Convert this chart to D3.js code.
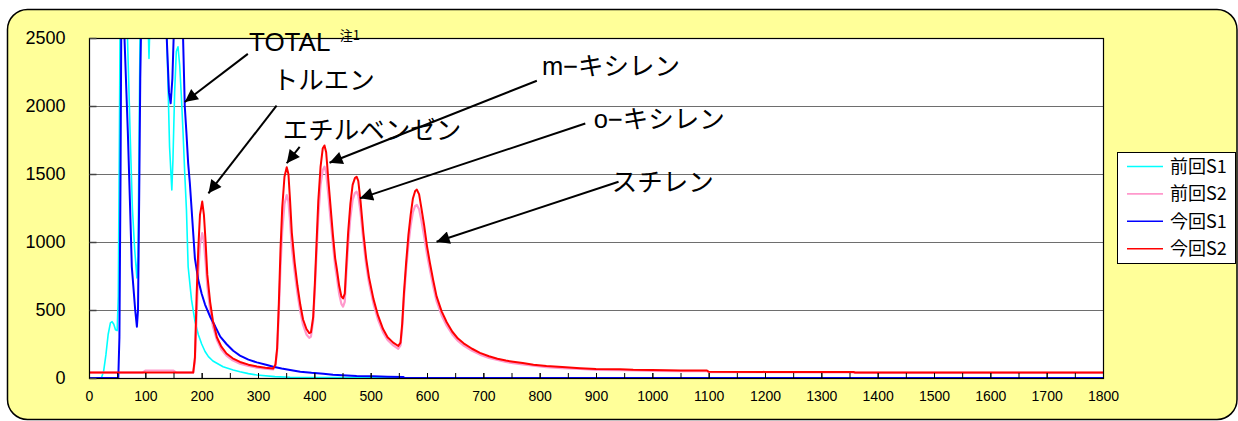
<!DOCTYPE html>
<html>
<head>
<meta charset="utf-8">
<script src="https://cdn.jsdelivr.net/npm/d3@7"></script>
<style>
  body { margin: 0; background: #fff; }
  svg { display: block; }
</style>
</head>
<body>
<div id="chart"></div>
<script>
const width = 1238;
const height = 421;
const marginTop = 38;
const marginLeft = 89;
const plotRight = 1103;
const plotBottom = 378;

// [time, value] per series (values above 2500 are clipped)
const prevS1 = [[0,0],[22,0],[26,50],[30,170],[34,320],[38,405],[41,414],[44,395],[47,355],[50,348],[52,600],[54,1800],[56,3200],[64,3200],[68,2550],[73,1800],[77,1250],[81,950],[85,735],[87,900],[89,1800],[91,2700],[93,3200],[103,3200],[105,2600],[106.5,2350],[108,2600],[110,3200],[134,3200],[137,2700],[140,2200],[143,1700],[147,1382],[149,1600],[152,2100],[155,2400],[158,2436],[161,2300],[164,2068],[167,1800],[170,1500],[173,1235],[176,818],[182,574],[188,420],[194,320],[200,250],[206,195],[212,157],[220,125],[238,83],[256,59],[268,46],[283,32],[298,22],[330,10],[357,5],[400,4],[500,3],[558,3],[560,0],[1800,0]];
const prevS2 = [[0,40],[95,40],[100,55],[150,55],[155,40],[185,40],[188,120],[191,450],[194,780],[197,980],[201,1065],[204,1000],[207,850],[210,680],[215,500],[220,380],[227,280],[235,210],[244,165],[255,130],[268,105],[283,88],[298,76],[313,68],[327,63],[331,90],[334,200],[337,480],[340,820],[343,1080],[347,1280],[351,1345],[354,1300],[357,1150],[360,960],[365,780],[370,620],[375,490],[380,390],[386,320],[391,295],[394,305],[398,420],[401,650],[404,920],[407,1180],[411,1420],[415,1530],[418,1554],[421,1510],[425,1340],[428,1200],[433,980],[437,820],[440,740],[444,620],[448,545],[451,525],[454,560],[457,780],[460,980],[464,1180],[468,1310],[472,1360],[475,1370],[478,1340],[482,1220],[487,1010],[492,830],[497,700],[505,545],[513,430],[522,335],[530,280],[540,240],[549,215],[553,240],[556,370],[559,580],[563,800],[567,980],[571,1120],[575,1220],[579,1265],[582,1272],[586,1240],[590,1160],[595,1040],[600,910],[605,800],[611,675],[617,565],[626,460],[635,385],[645,320],[655,272],[665,238],[680,200],[694,172],[710,148],[725,132],[740,118],[753,110],[770,100],[789,90],[812,80],[840,73],[872,66],[900,60],[943,58],[966,55],[1000,53],[1050,51],[1097,50],[1100,43],[1300,42],[1357,42],[1360,38],[1800,38]];
const currS1 = [[0,0],[52,0],[54,300],[56,1500],[58,3200],[61,3200],[63,2500],[66,2150],[69,1800],[73,1250],[76,818],[82,500],[85,377],[87,500],[89,1300],[91,2200],[93,2700],[95,3200],[135,3200],[138,2500],[142,2100],[145,2020],[148,2200],[151,2600],[154,3200],[164,3200],[167,2500],[170,2000],[173,1800],[176,1580],[179,1434],[182,1250],[188,880],[194,720],[200,620],[206,540],[215,451],[224,380],[233,304],[244,250],[256,200],[268,165],[283,135],[298,115],[316,96],[327,83],[342,70],[357,59],[375,46],[395,38],[416,32],[433,24],[475,15],[505,12],[530,10],[558,8],[560,0],[1800,0]];
const currS2 = [[0,40],[100,40],[185,40],[188,150],[191,600],[194,950],[197,1200],[201,1297],[204,1200],[207,1000],[210,760],[215,560],[220,420],[227,300],[235,230],[244,180],[255,145],[268,118],[283,98],[298,85],[313,76],[327,70],[331,100],[334,220],[337,550],[340,950],[343,1250],[347,1480],[351,1550],[354,1500],[357,1300],[360,1070],[365,850],[370,680],[375,540],[380,430],[386,360],[391,330],[394,335],[398,450],[401,700],[404,1000],[407,1300],[411,1550],[415,1690],[418,1710],[421,1660],[425,1450],[428,1300],[433,1050],[437,880],[440,800],[444,680],[448,600],[451,585],[454,620],[457,850],[460,1070],[464,1280],[468,1420],[472,1470],[475,1480],[478,1450],[482,1300],[487,1070],[492,880],[497,740],[505,580],[513,460],[522,360],[530,300],[540,260],[549,235],[553,260],[556,400],[559,620],[563,850],[567,1050],[571,1200],[575,1320],[579,1375],[582,1385],[586,1350],[590,1250],[595,1120],[600,970],[605,850],[611,720],[617,600],[626,490],[635,410],[645,340],[655,290],[665,255],[680,215],[694,185],[710,160],[725,142],[740,128],[753,120],[770,110],[789,98],[812,88],[840,80],[872,72],[900,66],[943,64],[966,60],[1000,58],[1050,56],[1097,55],[1100,46],[1200,45],[1300,44],[1357,44],[1360,40],[1500,40],[1800,40]];

const seriesNames = ["前回S1", "前回S2", "今回S1", "今回S2"];
const seriesData = [prevS1, prevS2, currS1, currS2];
const seriesColors = ["#00FFFF", "#FF99CC", "#0000FF", "#FF0000"];

const yTicks = [0, 500, 1000, 1500, 2000, 2500];
const xLabelTicks = d3.range(0, 1801, 100);
const xMinorTicks = d3.range(50, 1800, 50);

// annotations: label, text anchor [t, v], arrow start [t, v], arrow tip [t, v]
const noteLabels = ["TOTAL", "トルエン", "エチルベンゼン", "m−キシレン", "o−キシレン", "スチレン"];
const noteText = [[284, 2404], [326, 2125], [344, 1757], [804, 2228], [896, 1838], [928, 1375]];
const noteFrom = [[282, 2383], [333, 2002], [374, 1700], [795, 2186], [881, 1871], [940, 1443]];
const noteTip = [[170, 2029], [212, 1358], [351, 1579], [427, 1583], [481, 1321], [617, 1002]];
const totalNote = "注1";

const svg = d3.select("#chart")
    .append("svg")
    .attr("width", width)
    .attr("height", height);

svg.append("rect")
    .attr("x", 7.5).attr("y", 9.5)
    .attr("width", 1229.5).attr("height", 410)
    .attr("rx", 20).attr("ry", 20)
    .attr("fill", "#FFFF99")
    .attr("stroke", "#000")
    .attr("stroke-width", 1.5);

const xScale = d3.scaleLinear().domain([0, 1800]).range([marginLeft, plotRight]);
const yScale = d3.scaleLinear().domain([0, 2500]).range([plotBottom, marginTop]);

svg.append("rect")
    .attr("x", marginLeft).attr("y", marginTop)
    .attr("width", plotRight - marginLeft).attr("height", plotBottom - marginTop)
    .attr("fill", "#fff");

// gridlines
svg.append("g")
    .selectAll("line")
    .data(yTicks.slice(1, -1))
    .join("line")
    .attr("x1", marginLeft).attr("x2", plotRight)
    .attr("y1", d => yScale(d) + 0.5).attr("y2", d => yScale(d) + 0.5)
    .attr("stroke", "#6e6e6e").attr("stroke-width", 1);

svg.append("defs").append("clipPath").attr("id", "plotClip")
    .append("rect")
    .attr("x", marginLeft).attr("y", marginTop)
    .attr("width", plotRight - marginLeft).attr("height", plotBottom - marginTop + 2);

const line = d3.line()
    .x(d => xScale(d[0]))
    .y(d => yScale(d[1]));

const widths = [1.6, 2.2, 2, 2];
svg.append("g")
    .attr("clip-path", "url(#plotClip)")
    .selectAll("path")
    .data(seriesData)
    .join("path")
    .attr("fill", "none")
    .attr("stroke", (d, i) => seriesColors[i])
    .attr("stroke-width", (d, i) => widths[i])
    .attr("stroke-linejoin", "round")
    .attr("d", line);

// plot border
svg.append("rect")
    .attr("x", marginLeft + 0.5).attr("y", marginTop + 0.5)
    .attr("width", plotRight - marginLeft).attr("height", plotBottom - marginTop)
    .attr("fill", "none")
    .attr("stroke", "#000").attr("stroke-width", 1.2);

// y axis
const yAxis = svg.append("g")
    .attr("transform", `translate(${marginLeft + 0.5},0)`)
    .call(d3.axisLeft(yScale).tickValues(yTicks).tickFormat(d3.format("d"))
        .tickSizeInner(-7).tickSizeOuter(0).tickPadding(24));
yAxis.select(".domain").remove();
yAxis.selectAll("line").attr("stroke", "#444").attr("stroke-width", 1.5);
yAxis.selectAll("text")
    .attr("font-family", "Liberation Sans, Arial, sans-serif")
    .attr("font-size", 18)
    .attr("fill", "#000");

// x axis
const xAxis = svg.append("g")
    .attr("transform", `translate(0,${plotBottom + 0.5})`)
    .call(d3.axisBottom(xScale).tickValues(xLabelTicks).tickFormat(d3.format("d"))
        .tickSize(0).tickPadding(13));
xAxis.select(".domain").remove();
xAxis.selectAll("text")
    .attr("font-family", "Liberation Sans, Arial, sans-serif")
    .attr("font-size", 14)
    .attr("fill", "#000");

svg.append("g")
    .selectAll("line")
    .data(xLabelTicks.concat(xMinorTicks))
    .join("line")
    .attr("x1", d => xScale(d) + 0.5).attr("x2", d => xScale(d) + 0.5)
    .attr("y1", plotBottom - 5).attr("y2", plotBottom)
    .attr("stroke", "#000").attr("stroke-width", 1);

// annotations
svg.append("defs").append("marker")
    .attr("id", "arrowHead")
    .attr("viewBox", "0 0 10 10")
    .attr("refX", 10).attr("refY", 5)
    .attr("markerUnits", "userSpaceOnUse")
    .attr("markerWidth", 17).attr("markerHeight", 13)
    .attr("orient", "auto")
    .append("path")
    .attr("d", "M0,0 L10,5 L0,10 Z")
    .attr("fill", "#000");

svg.append("g")
    .selectAll("line")
    .data(noteLabels)
    .join("line")
    .attr("x1", (d, i) => xScale(noteFrom[i][0]))
    .attr("y1", (d, i) => yScale(noteFrom[i][1]))
    .attr("x2", (d, i) => xScale(noteTip[i][0]))
    .attr("y2", (d, i) => yScale(noteTip[i][1]))
    .attr("stroke", "#000")
    .attr("stroke-width", 2)
    .attr("marker-end", "url(#arrowHead)");

svg.append("g")
    .selectAll("text")
    .data(noteLabels)
    .join("text")
    .attr("x", (d, i) => xScale(noteText[i][0]))
    .attr("y", (d, i) => yScale(noteText[i][1]))
    .attr("font-family", "Liberation Sans, 'Noto Sans CJK JP', sans-serif")
    .attr("font-size", (d, i) => i === 0 ? 26 : 25.5)
    .attr("fill", "#000")
    .text(d => d);

svg.append("text")
    .attr("x", xScale(445))
    .attr("y", yScale(2485))
    .attr("font-family", "'Noto Sans CJK JP', sans-serif")
    .attr("font-size", 13)
    .text(totalNote);

// legend
const legend = svg.append("g").attr("transform", "translate(1117,152)");
legend.append("rect")
    .attr("x", 0.5).attr("y", 0.5)
    .attr("width", 118).attr("height", 111)
    .attr("fill", "#fff")
    .attr("stroke", "#000").attr("stroke-width", 1);

const item = legend.selectAll("g.item")
    .data(seriesNames)
    .join("g")
    .attr("class", "item")
    .attr("transform", (d, i) => `translate(0,${14.5 + i * 27.4})`);
item.append("line")
    .attr("x1", 10).attr("x2", 46)
    .attr("stroke", (d, i) => seriesColors[i])
    .attr("stroke-width", 1.6);
item.append("text")
    .attr("x", 53).attr("y", 6.5)
    .attr("font-family", "'Noto Sans CJK JP', sans-serif")
    .attr("font-size", 18)
    .text(d => d);
</script>
</body>
</html>
